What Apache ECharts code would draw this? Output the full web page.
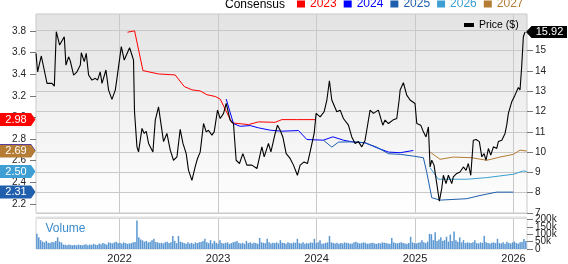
<!DOCTYPE html>
<html><head><meta charset="utf-8">
<script src="https://cdn.jsdelivr.net/npm/echarts@6/dist/echarts.min.js"></script>
<style>html,body{margin:0;padding:0;background:#fff}#c{width:568px;height:264px}</style>
</head><body><div id="c"></div>
<script>
const FONT = '"Liberation Sans", Arial, sans-serif';

const yearTicks = [2022, 2023, 2024, 2025, 2026];
const epsTicks = [2.2, 2.4, 2.6, 2.8, 3.0, 3.2, 3.4, 3.6, 3.8];
const priceTickValues = [7, 8, 9, 10, 11, 12, 13, 14, 15, 16];
const priceLabelValues = [7, 8, 9, 10, 11, 12, 13, 14, 15];
const volumeTicks = [0, 50000, 100000, 150000, 200000];
const volumeTickLabels = ['0', '50k', '100k', '150k', '200k'];

const priceYears = [2021.152,2021.168,2021.206,2021.264,2021.314,2021.338,2021.358,2021.392,2021.409,2021.439,
2021.456,2021.483,2021.500,2021.534,2021.568,2021.602,2021.612,2021.642,2021.662,2021.686,
2021.720,2021.754,2021.777,2021.804,2021.822,2021.862,2021.889,2021.923,2021.957,2021.974,
2021.990,2022.018,2022.048,2022.068,2022.102,2022.126,2022.142,2022.152,2022.177,2022.193,
2022.228,2022.251,2022.271,2022.295,2022.339,2022.363,2022.396,2022.447,2022.481,2022.515,
2022.548,2022.583,2022.616,2022.644,2022.677,2022.700,2022.735,2022.768,2022.792,2022.819,
2022.853,2022.880,2022.903,2022.938,2022.961,2022.995,2023.022,2023.056,2023.083,2023.123,
2023.157,2023.184,2023.218,2023.252,2023.293,2023.344,2023.395,2023.445,2023.469,2023.512,
2023.537,2023.580,2023.604,2023.631,2023.658,2023.692,2023.732,2023.766,2023.806,2023.834,
2023.874,2023.908,2023.935,2023.976,2023.996,2024.037,2024.077,2024.105,2024.131,2024.155,
2024.206,2024.240,2024.273,2024.324,2024.358,2024.392,2024.425,2024.460,2024.493,2024.510,
2024.544,2024.578,2024.628,2024.673,2024.696,2024.730,2024.775,2024.815,2024.839,2024.849,
2024.882,2024.916,2024.950,2025.000,2025.018,2025.058,2025.085,2025.112,2025.136,2025.153,
2025.170,2025.193,2025.221,2025.247,2025.271,2025.288,2025.315,2025.339,2025.373,2025.389,
2025.424,2025.457,2025.491,2025.518,2025.541,2025.566,2025.592,2025.620,2025.653,2025.678,
2025.701,2025.721,2025.745,2025.769,2025.796,2025.830,2025.846,2025.881,2025.914,2025.931,
2025.948,2025.982,2026.015,2026.049,2026.066,2026.083,2026.100,2026.117];
const priceValues = [14.87,13.96,14.74,13.39,13.39,13.25,15.94,15.28,15.2,15.69,
14.29,14.7,14.5,13.8,13.96,14.29,14.9,14.46,14.87,13.8,
13.55,13.64,13.55,13.96,13.39,14.05,13.06,12.6,13.06,13.64,
13.55,15.2,14.54,14.62,15.15,14.79,14.54,12.0,10.26,10.01,
11.17,10.92,11.03,10.43,10.01,11.58,12.23,10.52,10.92,10.10,
9.6,9.77,11.12,10.43,9.93,9.11,8.61,9.27,9.69,10.0,
11.41,11.0,11.08,10.84,11.0,12.07,11.66,11.91,12.40,11.58,
11.4,9.60,9.44,9.93,9.36,9.36,9.19,10.26,9.77,10.43,
10.01,10.92,11.33,11.08,10.75,9.93,9.69,9.36,8.86,9.36,
9.52,9.44,10.01,10.92,11.91,11.74,11.99,12.57,13.52,12.57,
11.99,12.07,11.66,11.33,10.75,10.43,10.52,10.26,10.59,11.08,
12.07,11.91,12.07,11.33,11.58,11.41,11.58,11.66,12.57,13.06,
13.42,12.81,12.57,12.40,11.41,11.33,11.0,10.75,11.24,9.27,
9.6,9.36,8.45,7.58,8.2,8.86,8.45,8.86,8.45,8.78,
8.95,9.02,9.27,9.1,9.44,8.86,10.59,10.62,10.52,9.77,
9.93,9.60,10.18,9.85,10.26,10.18,10.52,10.59,10.92,11.33,
11.91,12.48,12.81,13.19,13.06,14.21,15.69,15.92];

const eps2023Years = [2022.081,2022.153,2022.238,2022.396,2022.565,2022.657,2022.735,2022.819,2022.887,2022.971,2023.022,2023.141,2023.157,2023.309,2023.411,2023.580,2023.648,2023.800,2023.986];
const eps2023Values = [3.788,3.80,3.433,3.402,3.393,3.286,3.255,3.245,3.21,3.194,3.17,2.95,2.943,2.934,2.959,2.955,2.98,2.98,2.98];
const eps2024Years = [2023.083,2023.157,2023.225,2023.326,2023.411,2023.530,2023.648,2023.817,2023.902,2024.070,2024.166,2024.273,2024.375,2024.493,2024.612,2024.730,2024.849,2024.983];
const eps2024Values = [3.17,2.943,2.918,2.925,2.904,2.882,2.873,2.879,2.796,2.79,2.821,2.79,2.772,2.766,2.72,2.68,2.674,2.695];
const eps2025Years = [2024.070,2024.155,2024.223,2024.375,2024.493,2024.612,2024.730,2024.849,2024.983,2025.085,2025.120,2025.170,2025.254,2025.525,2025.660,2025.830,2025.999];
const eps2025Values = [2.79,2.726,2.772,2.775,2.766,2.725,2.665,2.659,2.643,2.628,2.49,2.258,2.236,2.249,2.279,2.31,2.31];
const eps2026Years = [2025.153,2025.236,2025.525,2025.728,2025.999,2026.100,2026.135];
const eps2026Values = [2.536,2.429,2.429,2.444,2.475,2.506,2.50];
const eps2027Years = [2025.153,2025.254,2025.389,2025.576,2025.728,2025.863,2025.999,2026.066,2026.135];
const eps2027Values = [2.68,2.613,2.634,2.628,2.604,2.634,2.659,2.698,2.689];

const volumeStart = 2021.161;
const volumeK = [103,80,60,50,45,55,42,40,48,45,
55,79,50,45,30,28,25,30,27,26,
28,25,30,27,25,28,32,26,30,28,
35,30,27,38,32,40,35,30,45,42,
38,45,50,40,42,38,45,40,35,38,
40,45,48,193,80,65,58,50,55,45,
50,60,70,48,45,40,42,38,45,50,
40,45,89,55,40,89,50,45,40,35,
45,38,42,35,45,40,45,48,55,69,
45,40,60,38,55,42,35,60,40,38,
42,45,35,40,45,50,55,40,38,42,
35,55,40,45,38,42,40,35,75,45,
42,40,69,45,38,42,40,45,38,60,
42,40,35,45,40,38,45,42,69,40,
38,45,35,40,38,45,42,69,40,45,
60,35,38,42,45,89,45,40,38,42,
35,40,38,45,42,40,35,38,45,50,
42,38,40,45,42,35,38,40,42,38,
35,40,38,45,42,40,38,35,75,45,
40,38,42,45,40,38,35,40,83,45,
40,38,42,45,60,45,40,50,103,100,
60,114,55,65,79,55,60,83,50,98,
55,119,60,50,79,45,60,40,45,42,
40,45,60,40,38,45,42,89,45,40,
38,42,45,40,69,40,38,45,35,50,
40,38,45,50,40,38,45,50,68,55];

const consensusNames = ['2023','2024','2025','2026','2027'];
const consensusColors = ['#ff0000','#0000ff','#1f5fad','#3d9fd3','#b47c35'];
const consensusYears = [eps2023Years, eps2024Years, eps2025Years, eps2026Years, eps2027Years];
const consensusValues = [eps2023Values, eps2024Values, eps2025Values, eps2026Values, eps2027Values];

const zip = (a, b) => a.map((x, i) => [x, b[i]]);
const volumeData = volumeK.map((v, i) => [volumeStart + i * 7 / 365.25, v * 1000]);

const X_MIN = 2021.152, X_MAX = 2026.137;
const GRID_COLOR = '#c9c9c9';

const chart = echarts.init(document.getElementById('c'), null, {renderer: 'canvas'});

const series = [];
consensusNames.forEach((n, k) => {
  series.push({
    name: n, type: 'line', xAxisIndex: 0, yAxisIndex: 0,
    data: zip(consensusYears[k], consensusValues[k]),
    color: consensusColors[k], symbol: 'none', silent: true, z: 3 + k,
    lineStyle: {width: 1, color: consensusColors[k]}
  });
});
series.push({
  name: 'Price ($)', type: 'line', xAxisIndex: 0, yAxisIndex: 1,
  data: zip(priceYears, priceValues), color: '#000', symbol: 'none', z: 10,
  lineStyle: {width: 1.1, color: '#000'}
});
series.push({
  name: 'Volume', type: 'bar', xAxisIndex: 1, yAxisIndex: 2,
  data: volumeData, barWidth: 1.5, itemStyle: {color: '#5a97d2'}, silent: true
});

const option = {
  animation: false,
  textStyle: {fontFamily: FONT},
  grid: [
    {left: 36, right: 41, top: 14, height: 199, show: true, borderColor: GRID_COLOR, borderWidth: 1,
     backgroundColor: new echarts.graphic.LinearGradient(0, 0, 0, 1, [{offset: 0, color: '#e3e3e3'}, {offset: 1, color: '#ffffff'}])},
    {left: 36, right: 41, top: 218.5, height: 34.8, show: true, borderColor: '#d4d4d4', borderWidth: 1, backgroundColor: '#fff'}
  ],
  legend: [
    {data: consensusNames.map((n, k) => ({name: n, textStyle: {color: consensusColors[k]}})),
     left: 297, top: -2, icon: 'rect', itemWidth: 8, itemHeight: 7, itemGap: 7, selectedMode: false,
     textStyle: {fontSize: 12, fontFamily: FONT, padding: [0, 0, 0, 0]}, padding: 0},
    {data: ['Price ($)'], left: 464, top: 19.5, icon: 'rect', itemWidth: 10, itemHeight: 4, selectedMode: false,
     textStyle: {fontSize: 10.5, fontFamily: FONT, color: '#000'}, padding: 0}
  ],
  xAxis: [
    {type: 'value', gridIndex: 0, min: X_MIN, max: X_MAX,
     axisLine: {show: false}, axisLabel: {show: false},
     axisTick: {show: false, customValues: yearTicks},
     splitLine: {show: true, lineStyle: {color: GRID_COLOR, width: 1}}},
    {type: 'value', gridIndex: 1, min: X_MIN, max: X_MAX,
     axisLine: {show: false},
     axisTick: {show: false, customValues: yearTicks},
     axisLabel: {customValues: yearTicks, formatter: v => String(Math.round(v)), fontSize: 11, color: '#222', margin: 4, fontFamily: FONT},
     splitLine: {show: true, lineStyle: {color: GRID_COLOR, width: 1}}}
  ],
  yAxis: [
    {type: 'value', gridIndex: 0, position: 'left', min: 2.117, max: 3.956,
     axisLine: {show: false},
     axisTick: {show: true, length: 6, customValues: epsTicks, lineStyle: {color: '#777'}},
     axisLabel: {customValues: epsTicks, formatter: v => v.toFixed(1), fontSize: 10, color: '#222', margin: 10, fontFamily: FONT},
     splitLine: {show: false}},
    {type: 'value', gridIndex: 0, position: 'right', min: 7, max: 16.81, interval: 1,
     axisLine: {show: false},
     axisTick: {show: true, length: 6, customValues: priceTickValues, lineStyle: {color: '#777'}},
     axisLabel: {customValues: priceLabelValues, fontSize: 10, color: '#222', margin: 8, fontFamily: FONT},
     splitLine: {show: true, lineStyle: {color: GRID_COLOR, width: 1}}},
    {type: 'value', gridIndex: 1, position: 'right', min: 0, max: 207000,
     axisLine: {show: false},
     axisTick: {show: true, length: 6, customValues: volumeTicks, lineStyle: {color: '#777'}},
     axisLabel: {show: false},
     splitLine: {show: false}}
  ],
  series: series
};
chart.setOption(option);

const TAG_Z = 100;
function leftTag(v, color, k) {
  const y = chart.convertToPixel({yAxisIndex: 0}, v);
  return [
    {type: 'polygon', z: TAG_Z + 2 * k, shape: {points: [[0, y - 6.5], [31, y - 6.5], [35.5, y], [31, y + 6.5], [0, y + 6.5]]}, style: {fill: color}},
    {type: 'text', z: TAG_Z + 2 * k + 1, x: 16, y: y, style: {text: v.toFixed(2), fill: '#fff', font: '11px ' + FONT, align: 'center', verticalAlign: 'middle'}}
  ];
}
let graphics = [
  {type: 'text', x: 225, y: 5, z: 60, style: {text: 'Consensus', fill: '#000', font: '12px ' + FONT, verticalAlign: 'middle'}},
  {type: 'rect', shape: {x: 36, y: 216.5, width: 491, height: 2}, style: {fill: '#e2e2e2'}, z: 60},
  {type: 'text', x: 45.5, y: 229, z: 60, style: {text: 'Volume', fill: '#3b8bcb', font: '12px ' + FONT, verticalAlign: 'middle'}}
];
volumeTicks.forEach((v, i) => {
  const y = chart.convertToPixel({yAxisIndex: 2}, v);
  graphics.push({type: 'text', x: 535, y: y, z: 60, style: {text: volumeTickLabels[i], fill: '#222', font: '10px ' + FONT, verticalAlign: 'middle'}});
});
consensusNames.forEach((n, k) => {
  const vals = consensusValues[k];
  graphics = graphics.concat(leftTag(vals[vals.length - 1], consensusColors[k], k));
});
const lastPrice = priceValues[priceValues.length - 1];
const py = chart.convertToPixel({yAxisIndex: 1}, lastPrice);
graphics.push(
  {type: 'polygon', z: 130, shape: {points: [[526, py], [531.5, py - 6], [567, py - 6], [567, py + 6], [531.5, py + 6]]}, style: {fill: '#000'}},
  {type: 'text', z: 131, x: 549.5, y: py, style: {text: lastPrice.toFixed(2), fill: '#fff', font: '11px ' + FONT, align: 'center', verticalAlign: 'middle'}}
);
chart.setOption({graphic: graphics});
</script>
</body></html>
